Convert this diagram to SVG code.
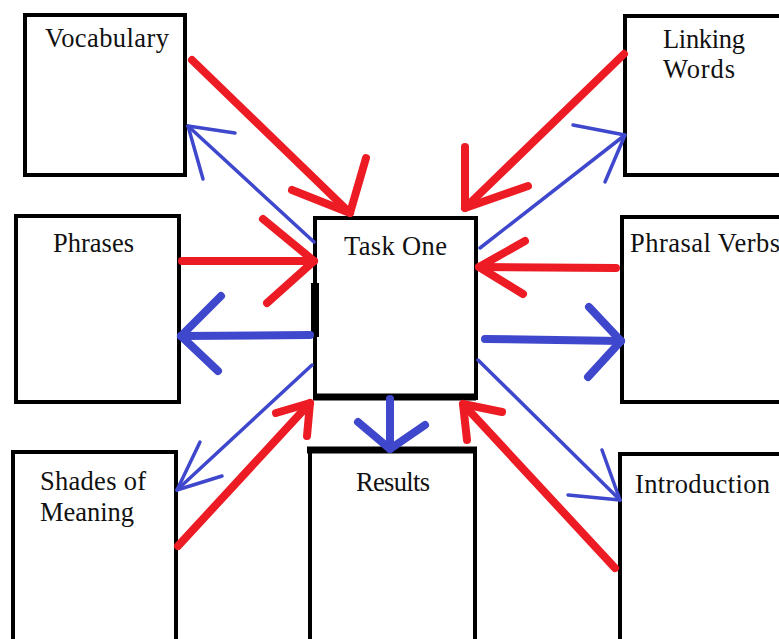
<svg xmlns="http://www.w3.org/2000/svg" width="779" height="639" viewBox="0 0 779 639">
<style>
.box{fill:none;stroke:#000;stroke-width:4}
.t{font-family:"Liberation Serif","Times New Roman",serif;font-size:26.5px;fill:#111}
.r{stroke:#ED1C24;stroke-width:8;fill:none;stroke-linecap:round;stroke-linejoin:round}
.b{stroke:#3F48CC;stroke-width:3.5;fill:none;stroke-linecap:round;stroke-linejoin:round}
.bt{stroke:#3F48CC;stroke-width:8;fill:none;stroke-linecap:round;stroke-linejoin:round}
</style>
<rect width="779" height="639" fill="#fff"/>
<g id="vocabulary"><rect class="box" x="25" y="15" width="160" height="160"/><text class="t" x="45" y="47" textLength="124">Vocabulary</text></g>
<g id="linking-words"><rect class="box" x="625" y="16" width="200" height="159"/><text class="t" x="663" y="48" textLength="82">Linking</text><text class="t" x="663" y="78" textLength="72">Words</text></g>
<g id="phrases"><rect class="box" x="16" y="216" width="163" height="186"/><text class="t" x="53" y="252" textLength="81">Phrases</text></g>
<g id="phrasal-verbs"><rect class="box" x="622" y="217" width="200" height="185"/><text class="t" x="630" y="252" textLength="150">Phrasal Verbs</text></g>
<g id="task-one"><rect class="box" x="315" y="218" width="161" height="180"/><line x1="315" y1="283" x2="315" y2="337" stroke="#000" stroke-width="8"/><line x1="313" y1="397" x2="476" y2="397" stroke="#000" stroke-width="7"/><text class="t" x="344" y="255" textLength="103">Task One</text></g>
<g id="shades-of-meaning"><rect class="box" x="13" y="452" width="163" height="200"/><text class="t" x="40" y="490" textLength="106">Shades of</text><text class="t" x="40" y="521" textLength="94">Meaning</text></g>
<g id="results"><rect class="box" x="310" y="450" width="165" height="200"/><line x1="307" y1="450" x2="477" y2="450" stroke="#000" stroke-width="7"/><text class="t" x="356" y="491" textLength="74">Results</text></g>
<g id="introduction"><rect class="box" x="620" y="454" width="200" height="200"/><text class="t" x="635" y="493" textLength="135">Introduction</text></g>
<g id="connectors">
<line class="r" x1="192" y1="60" x2="350" y2="213"/><polyline class="r" points="292,190 350,213 366,158"/>
<line class="b" x1="314" y1="242" x2="188" y2="126"/><polyline class="b" points="235,133 188,126 203,179"/>
<line class="r" x1="182" y1="261" x2="314" y2="261"/><polyline class="r" points="263,219 314,261 267,303"/>
<line class="bt" x1="310" y1="335" x2="181" y2="336"/><polyline class="bt" points="221,296 181,336 218,371"/>
<line class="b" x1="312" y1="365" x2="177" y2="490"/><polyline class="b" points="200,442 177,490 222,476"/>
<line class="r" x1="178" y1="546" x2="310" y2="403"/><polyline class="r" points="276,413 310,403 307,436"/>
<line class="bt" x1="390" y1="399" x2="390" y2="449"/><polyline class="bt" points="358,422 390,449 425,425"/>
<line class="r" x1="615" y1="568" x2="463" y2="404"/><polyline class="r" points="502,412 463,404 467,440"/>
<line class="b" x1="478" y1="360" x2="620" y2="500"/><polyline class="b" points="602,450 620,500 568,495"/>
<line class="bt" x1="485" y1="339" x2="621" y2="341"/><polyline class="bt" points="589,307 621,341 588,377"/>
<line class="r" x1="616" y1="268" x2="479" y2="267"/><polyline class="r" points="525,241 479,267 523,294"/>
<line class="b" x1="480" y1="248" x2="625" y2="135"/><polyline class="b" points="573,125 625,135 605,182"/>
<line class="r" x1="624" y1="54" x2="465" y2="208"/><polyline class="r" points="465,147 465,208 528,186"/>
</g>
</svg>
